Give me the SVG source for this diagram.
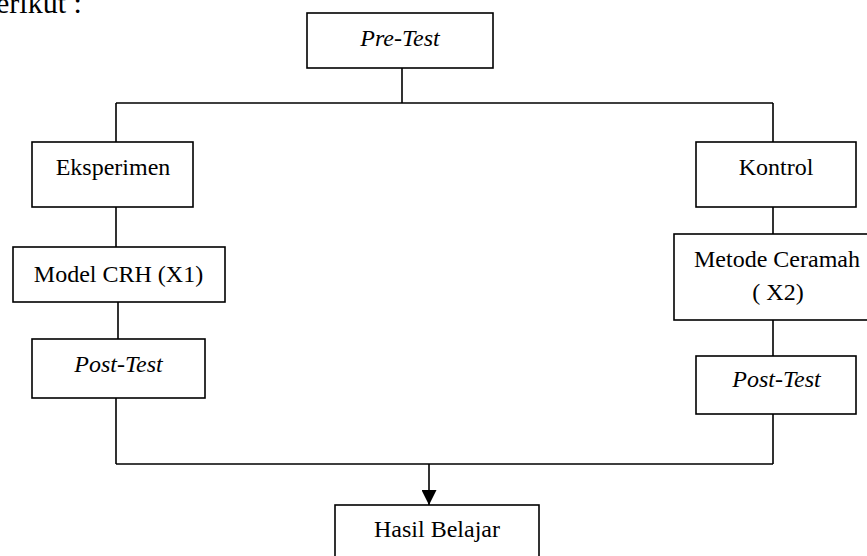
<svg xmlns="http://www.w3.org/2000/svg" width="867" height="556" viewBox="0 0 867 556">
<style>
.box{fill:#fff;stroke:#000;stroke-width:1.6}
.t{font-family:"Liberation Serif","Times New Roman",serif;font-size:24px;fill:#000;text-anchor:middle}
.i{font-style:italic}
.c{stroke:#000;stroke-width:1.6;fill:none}
</style>
<defs>
<marker id="arr" markerWidth="16" markerHeight="15" refX="15" refY="7.5" orient="auto" markerUnits="userSpaceOnUse">
<path d="M0,0 L15,7.5 L0,15 Z" fill="#000"/>
</marker>
</defs>
<rect width="867" height="556" fill="#fff"/>
<text x="-4" y="13" font-family="Liberation Serif, serif" font-size="30px" fill="#000">erikut :</text>
<g id="connectors">
<path class="c" d="M402,68 V103 M116,103 H773 M116,103 V142 M773,103 V142 M116,207 V247 M118,302 V339 M116,398 V464 M773,207 V234 M773,320 V356 M773,414 V464 M116,464 H773"/>
<path class="c" d="M429,464 V505" marker-end="url(#arr)"/>
</g>
<g id="pretest"><rect class="box" x="307" y="13" width="186" height="55"/><text class="t i" x="400" y="46">Pre-Test</text></g>
<g id="eksperimen"><rect class="box" x="32" y="142" width="161" height="65"/><text class="t" x="113" y="175">Eksperimen</text></g>
<g id="kontrol"><rect class="box" x="696" y="142" width="160" height="65"/><text class="t" x="776" y="175">Kontrol</text></g>
<g id="model"><rect class="box" x="13" y="247" width="212" height="55"/><text class="t" x="118.5" y="282">Model CRH (X1)</text></g>
<g id="metode"><rect class="box" x="674" y="234" width="200" height="86"/><text class="t" x="777" y="267">Metode Ceramah</text><text class="t" x="778" y="300">( X2)</text></g>
<g id="posttest1"><rect class="box" x="32" y="339" width="173" height="59"/><text class="t i" x="118.5" y="372">Post-Test</text></g>
<g id="posttest2"><rect class="box" x="696" y="356" width="160" height="58"/><text class="t i" x="776.5" y="387">Post-Test</text></g>
<g id="hasil"><rect class="box" x="335" y="505" width="204" height="60"/><text class="t" x="437" y="537">Hasil Belajar</text></g>
</svg>
